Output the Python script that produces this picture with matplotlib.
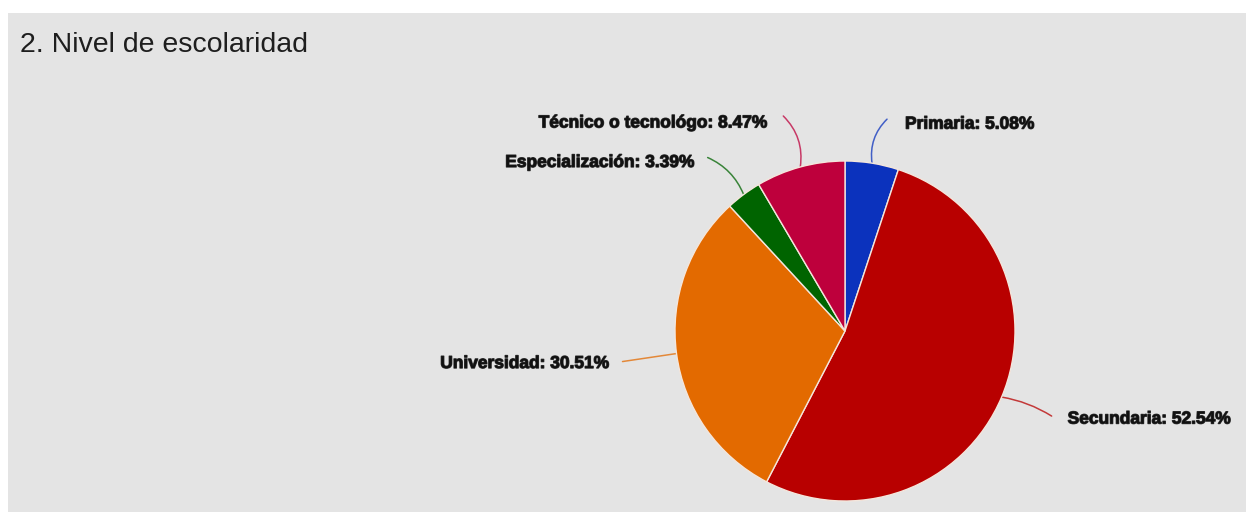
import numpy as np
import matplotlib
matplotlib.use("Agg")
import matplotlib.pyplot as plt
from matplotlib.patches import Rectangle
import matplotlib.patheffects as pe

# data
categories = ["Primaria", "Secundaria", "Universidad", "Especialización", "Técnico o tecnológo"]
values = [5.08, 52.54, 30.51, 3.39, 8.47]
colors = ["#0b32bd", "#b80000", "#e36a00", "#006400", "#be003c"]
title = "2. Nivel de escolaridad"

# layout (pixels): leader line end relative to wedge edge, text offset relative to line end
line_off = [(15, -44), (50, 19), (-54, 8), (-36, -37), (-17, -51)]
text_off = [(18, 5), (16, 3), (-13, 2), (-13, 5), (-16, 7)]
line_rad = [0.25, 0.1, 0.0, -0.2, -0.25]

W, H = 1246, 512
fig = plt.figure(figsize=(W / 100, H / 100), dpi=100, facecolor="white")
ax = fig.add_axes([0, 0, 1, 1])

cx, cy, r = 845, H - 331, 170
wedges, _ = ax.pie(values, colors=colors, startangle=90, counterclock=False,
                   radius=r, center=(cx, cy),
                   wedgeprops=dict(edgecolor="#f4e6dc", linewidth=1.0))
for w in wedges:
    w.set_zorder(2)

ax.add_patch(Rectangle((8, 0), W - 8, H - 13, facecolor="#e4e4e4",
                       edgecolor="none", zorder=0))

ax.text(20, H - 45, title, fontsize=20.5, family="Liberation Sans",
        color="#1e1e1e", va="center", ha="left")

for w, name, val, c, lo, to, rad in zip(wedges, categories, values, colors,
                                        line_off, text_off, line_rad):
    ang = np.deg2rad((w.theta1 + w.theta2) / 2)
    ex, ey = cx + r * np.cos(ang), cy + r * np.sin(ang)
    lx, ly = ex + lo[0], ey - lo[1]
    ax.annotate("", xy=(ex, ey), xytext=(lx, ly),
                arrowprops=dict(arrowstyle="-", color=c, alpha=0.75, lw=1.1,
                                shrinkA=0, shrinkB=0,
                                connectionstyle=f"arc3,rad={rad}"),
                zorder=1)
    ha = "left" if to[0] > 0 else "right"
    ax.text(lx + to[0], ly - to[1], f"{name}: {val:.2f}%", ha=ha, va="center",
            fontsize=12.5, fontweight="bold", family="Liberation Sans",
            color="#111111",
            path_effects=[pe.withStroke(linewidth=0.9, foreground="#333333")])

ax.set_xlim(0, W)
ax.set_ylim(0, H)
ax.set_aspect("equal", adjustable="box")
ax.axis("off")

fig.savefig("out.png", dpi=100, facecolor="white")
